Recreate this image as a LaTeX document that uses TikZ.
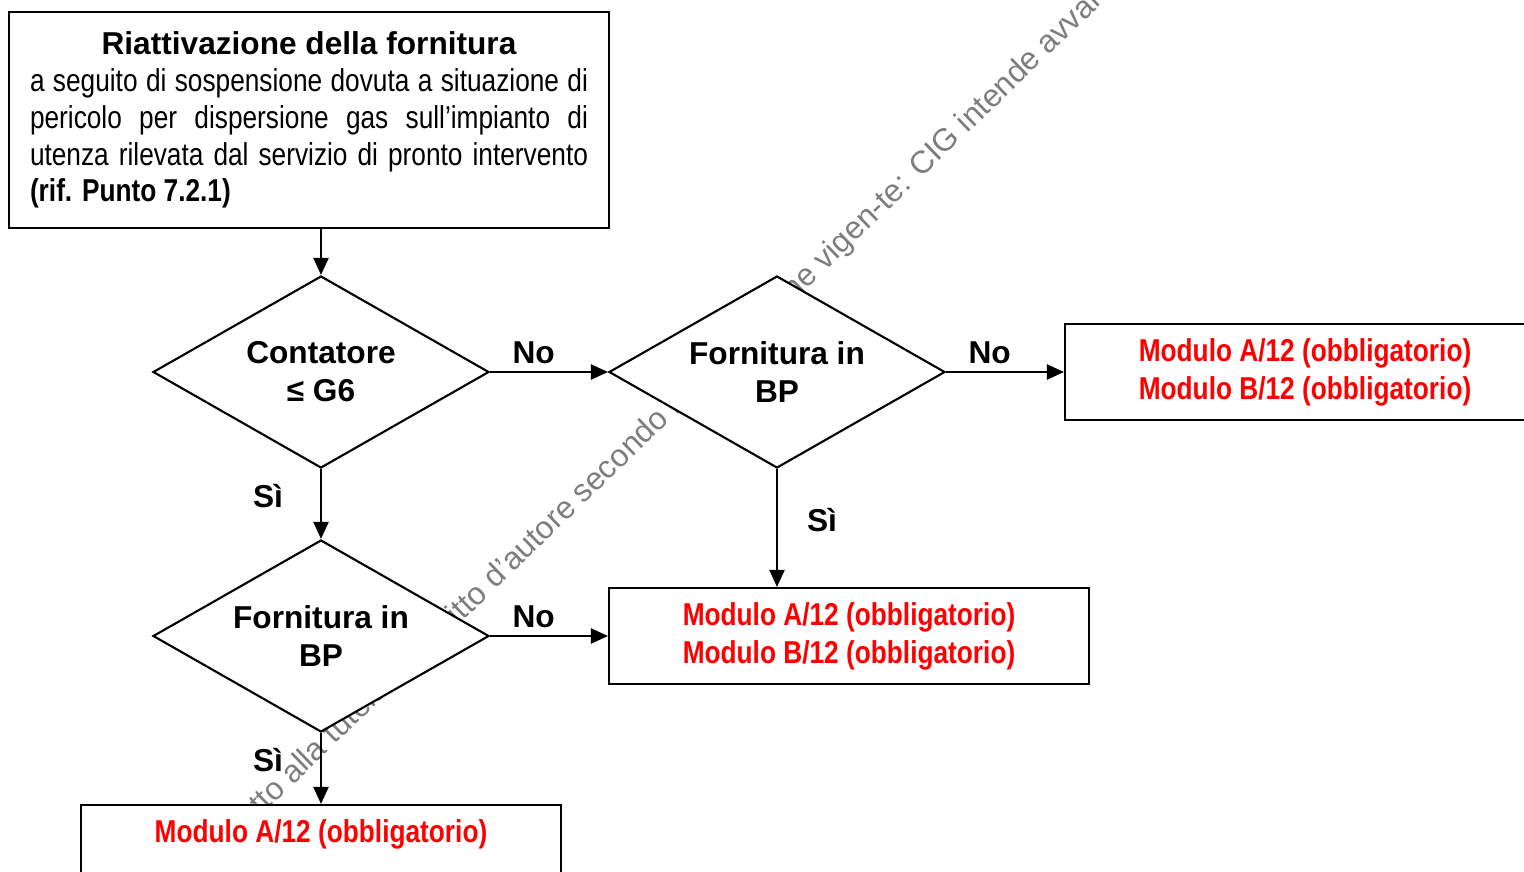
\documentclass[tikz,border=0pt]{standalone}
\usepackage{fontspec}
\setmainfont{Liberation Sans}
\newfontfamily\narrowfont[FakeStretch=0.83]{Liberation Sans}
\usetikzlibrary{shapes.geometric,arrows.meta}

\definecolor{modred}{RGB}{255,0,0}
\definecolor{wmgray}{RGB}{125,125,125}

\tikzset{
  box/.style={draw, line width=0.6pt, fill=white, inner sep=0pt,
    minimum width=4.8cm, minimum height=0.96cm, align=center},
  modtext/.style={font=\narrowfont\bfseries, text=modred},
  decision/.style={diamond, aspect=1.75, draw, line width=0.6pt, fill=white, inner sep=0pt,
    minimum width=3.36cm, minimum height=1.92cm, align=center, font=\bfseries},
  arr/.style={line width=0.6pt, -{Triangle[length=0.17cm,width=0.15cm]}},
  lbl/.style={font=\bfseries, inner sep=0pt},
  wm/.style={text=wmgray, inner sep=0pt}
}

\begin{document}
\fontsize{9}{10.8}\selectfont
\begin{tikzpicture}
\useasboundingbox (0,0) rectangle (15.24,-8.71);

% watermark, behind everything
\node[wm, rotate=44, anchor=base west] (wmark) at (1.99,-8.76)
  {soggetto alla tutela del diritto d'autore secondo la legislazione vigen-te: CIG intende avvalersi};

% start box
\node[draw, line width=0.6pt, fill=white, text width=5.58cm, inner xsep=0.21cm,
  inner ysep=0pt, minimum height=2.16cm, align=justify] (start) at (3.09,-1.20)
  {\fontsize{9}{10.5}\selectfont
   {\centering\bfseries Riattivazione della fornitura\par}
   {\narrowfont a seguito di sospensione dovuta a situazione di\linebreak
    pericolo per dispersione gas sull’impianto di\linebreak
    utenza rilevata dal servizio di pronto intervento\linebreak
    \textbf{(rif. Punto 7.2.1)}\par}};

% decisions
\node[decision] (cont) at (3.21,-3.72) {Contatore\\≤ G6};
\node[decision] (bpA) at (7.77,-3.72) {Fornitura in\\BP};
\node[decision] (bpB) at (3.21,-6.36) {Fornitura in\\BP};

% outcomes
\node[box, modtext] (modA) at (13.05,-3.72) {Modulo A/12 (obbligatorio)\\Modulo B/12 (obbligatorio)};
\node[box, modtext] (modB) at (8.49,-6.36) {Modulo A/12 (obbligatorio)\\Modulo B/12 (obbligatorio)};
\node[box, modtext] (modC) at (3.21,-8.53) {Modulo A/12 (obbligatorio)\\\phantom{Modulo B/12 (obbligatorio)}};

% connectors
\draw[arr] (cont.north |- start.south) -- (cont.north);
\draw[arr] (cont.east) -- node[lbl, pos=0.37, above=0.07cm] {No} (bpA.west);
\draw[arr] (bpA.east) -- node[lbl, pos=0.37, above=0.07cm] {No} (modA.west);
\draw[arr] (bpA.south) -- node[lbl, pos=0.43, right=0.29cm] {Sì} (bpA.south |- modB.north);
\draw[arr] (cont.south) -- node[lbl, pos=0.39, left=0.37cm] {Sì} (bpB.north);
\draw[arr] (bpB.east) -- node[lbl, pos=0.37, above=0.07cm] {No} (modB.west);
\draw[arr] (bpB.south) -- node[lbl, pos=0.38, left=0.37cm] {Sì} (modC.north);
\end{tikzpicture}
\end{document}
